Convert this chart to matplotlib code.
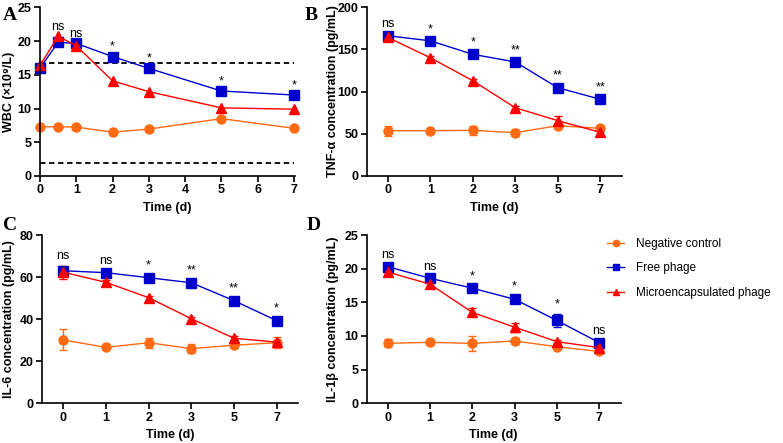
import numpy as np
import matplotlib.pyplot as plt
from matplotlib.lines import Line2D

plt.rcParams['font.family'] = ['Liberation Sans', 'DejaVu Sans']

# ---- data ----
days_a = [0, 0.5, 1, 2, 3, 5, 7]
wbc_neg = [7.3, 7.3, 7.25, 6.5, 6.95, 8.5, 7.07]
wbc_free = [16.0, 19.8, 19.65, 17.7, 15.95, 12.6, 12.0]
wbc_micro = [16.4, 20.7, 19.3, 14.1, 12.5, 10.1, 9.9]
wbc_ref = [1.9, 16.8]
wbc_sig = ['', 'ns', 'ns', '*', '*', '*', '*']

day_labels = ['0', '1', '2', '3', '5', '7']

tnf_neg = [53.6, 53.6, 54.0, 51.3, 59.5, 56.4]
tnf_neg_err = [6, 2, 5, 4, 3, 2]
tnf_free = [166, 160, 144, 135, 104.5, 90.8]
tnf_free_err = [2, 2, 2, 2, 3, 2]
tnf_micro = [164, 140, 112.8, 80.8, 65.5, 51.7]
tnf_micro_err = [2, 2, 2, 2, 5, 2]
tnf_sig = ['ns', '*', '*', '**', '**', '**']

il6_neg = [30.1, 26.6, 28.8, 26.0, 27.6, 28.8]
il6_neg_err = [5, 1, 2.3, 2, 1, 2.5]
il6_free = [63.0, 62.1, 59.7, 57.3, 48.8, 39.3]
il6_free_err = [2, 1, 1, 1, 1, 1]
il6_micro = [62.3, 57.5, 50.2, 40.2, 30.9, 29.1]
il6_micro_err = [3, 1, 1, 1, 1, 1]
il6_sig = ['ns', 'ns', '*', '**', '**', '*']

il1b_neg = [8.9, 9.06, 8.9, 9.26, 8.4, 7.7]
il1b_neg_err = [0.6, 0.2, 1.1, 0.5, 0.2, 0.2]
il1b_free = [20.3, 18.57, 17.1, 15.45, 12.3, 9.0]
il1b_free_err = [0.3, 0.3, 0.3, 0.5, 1.0, 0.3]
il1b_micro = [19.5, 17.7, 13.5, 11.3, 9.15, 8.27]
il1b_micro_err = [0.3, 0.6, 0.6, 0.7, 0.2, 0.2]
il1b_sig = ['ns', 'ns', '*', '*', '*', 'ns']

groups = ['Negative control', 'Free phage', 'Microencapsulated phage']
colors = ['#FF6A13', '#0000CD', '#FF0000']
markers = ['o', 's', '^']
msizes = [6.5, 7, 6.5]

W, H = 783, 443
fig = plt.figure(figsize=(W / 100, H / 100), dpi=100)


def px_axes(l, t, r, b):
    return fig.add_axes([l / W, 1 - b / H, (r - l) / W, (b - t) / H])


def style(ax, label_right_px):
    for s in ['top', 'right']:
        ax.spines[s].set_visible(False)
    for s in ['left', 'bottom']:
        ax.spines[s].set_linewidth(1.2)
    ax.tick_params(direction='out', length=4, width=1.2, labelsize=9, pad=2)
    for lab in ax.get_xticklabels() + ax.get_yticklabels():
        lab.set_fontweight('bold')
    # y label: right edge at the given pixel column
    bb = ax.get_position()
    ax.yaxis.set_label_coords((label_right_px - bb.x0 * W) / (bb.width * W), 0.5)


def plot_groups(ax, x, ys, errs):
    for y, e, c, m, ms, g in zip(ys, errs, colors, markers, msizes, groups):
        ax.errorbar(x, y, yerr=e, color=c, marker=m, ms=ms, lw=1,
                    capsize=3, elinewidth=1, capthick=1, label=g, clip_on=False)


def stars(ax, x, tops, labels):
    for xi, yi, s in zip(x, tops, labels):
        if s:
            ax.annotate(s, (xi, yi), xytext=(0, 7), textcoords='offset points',
                        ha='center', va='center', fontsize=9)


# ---- A ----
axA = px_axes(40, 7.3, 295, 176)
plot_groups(axA, days_a, [wbc_neg, wbc_free, wbc_micro], [None, None, None])
for r in wbc_ref:
    axA.plot([0, 7], [r, r], color='black', ls=(0, (3, 2)), lw=1.3)
axA.set_xlim(0, 7.03)
axA.set_ylim(0, 25)
axA.set_xticks(range(8))
axA.set_yticks([0, 5, 10, 15, 20, 25])
axA.set_xlabel('Time (d)', fontsize=9, fontweight='bold', labelpad=4)
axA.set_ylabel('WBC (×10⁹/L)', fontsize=9, fontweight='bold')
stars(axA, days_a, np.maximum(wbc_free, wbc_micro), wbc_sig)
style(axA, 15)

# ---- B, C, D ----
panels = [
    ((366.5, 7, 621.5, 176), [tnf_neg, tnf_free, tnf_micro],
     [tnf_neg_err, tnf_free_err, tnf_micro_err], tnf_sig, 200, 50,
     'TNF-α concentration (pg/mL)', 339),
    ((42, 235, 298, 403.3), [il6_neg, il6_free, il6_micro],
     [il6_neg_err, il6_free_err, il6_micro_err], il6_sig, 80, 20,
     'IL-6 concentration (pg/mL)', 15),
    ((366.5, 235, 620.5, 403.3), [il1b_neg, il1b_free, il1b_micro],
     [il1b_neg_err, il1b_free_err, il1b_micro_err], il1b_sig, 25, 5,
     'IL-1β concentration (pg/mL)', 339),
]
xpos = np.arange(len(day_labels))
axes = [axA]
for box, ys, errs, sig, ymax, step, ylab, lab_px in panels:
    ax = px_axes(*box)
    plot_groups(ax, xpos, ys, errs)
    ax.set_xlim(-0.5, 5.5)
    ax.set_ylim(0, ymax)
    ax.set_xticks(xpos)
    ax.set_xticklabels(day_labels)
    ax.set_yticks(np.arange(0, ymax + step / 2, step))
    ax.set_xlabel('Time (d)', fontsize=9, fontweight='bold', labelpad=4)
    ax.set_ylabel(ylab, fontsize=9, fontweight='bold')
    tops = np.maximum(np.add(ys[1], errs[1]), np.add(ys[2], errs[2]))
    stars(ax, xpos, tops, sig)
    style(ax, lab_px)
    axes.append(ax)

for ax, letter, (lx, ly) in zip(axes, 'ABCD', [(3, 16), (305, 16), (3, 226), (307, 226)]):
    fig.text(lx / W, 1 - ly / H, letter, family='Liberation Serif', fontweight='bold',
             fontsize=14, va='center', ha='left')

handles = [Line2D([], [], color=c, marker=m, ms=ms * 0.7, lw=1)
           for c, m, ms in zip(colors, markers, msizes)]
fig.legend(handles, groups, loc='upper left', bbox_to_anchor=(607 / W, 1 - 238 / H),
           frameon=False, fontsize=8.5, handlelength=1.45, labelspacing=1.05,
           handletextpad=1.0, borderpad=0, borderaxespad=0)

fig.savefig('out.png', dpi=100)
